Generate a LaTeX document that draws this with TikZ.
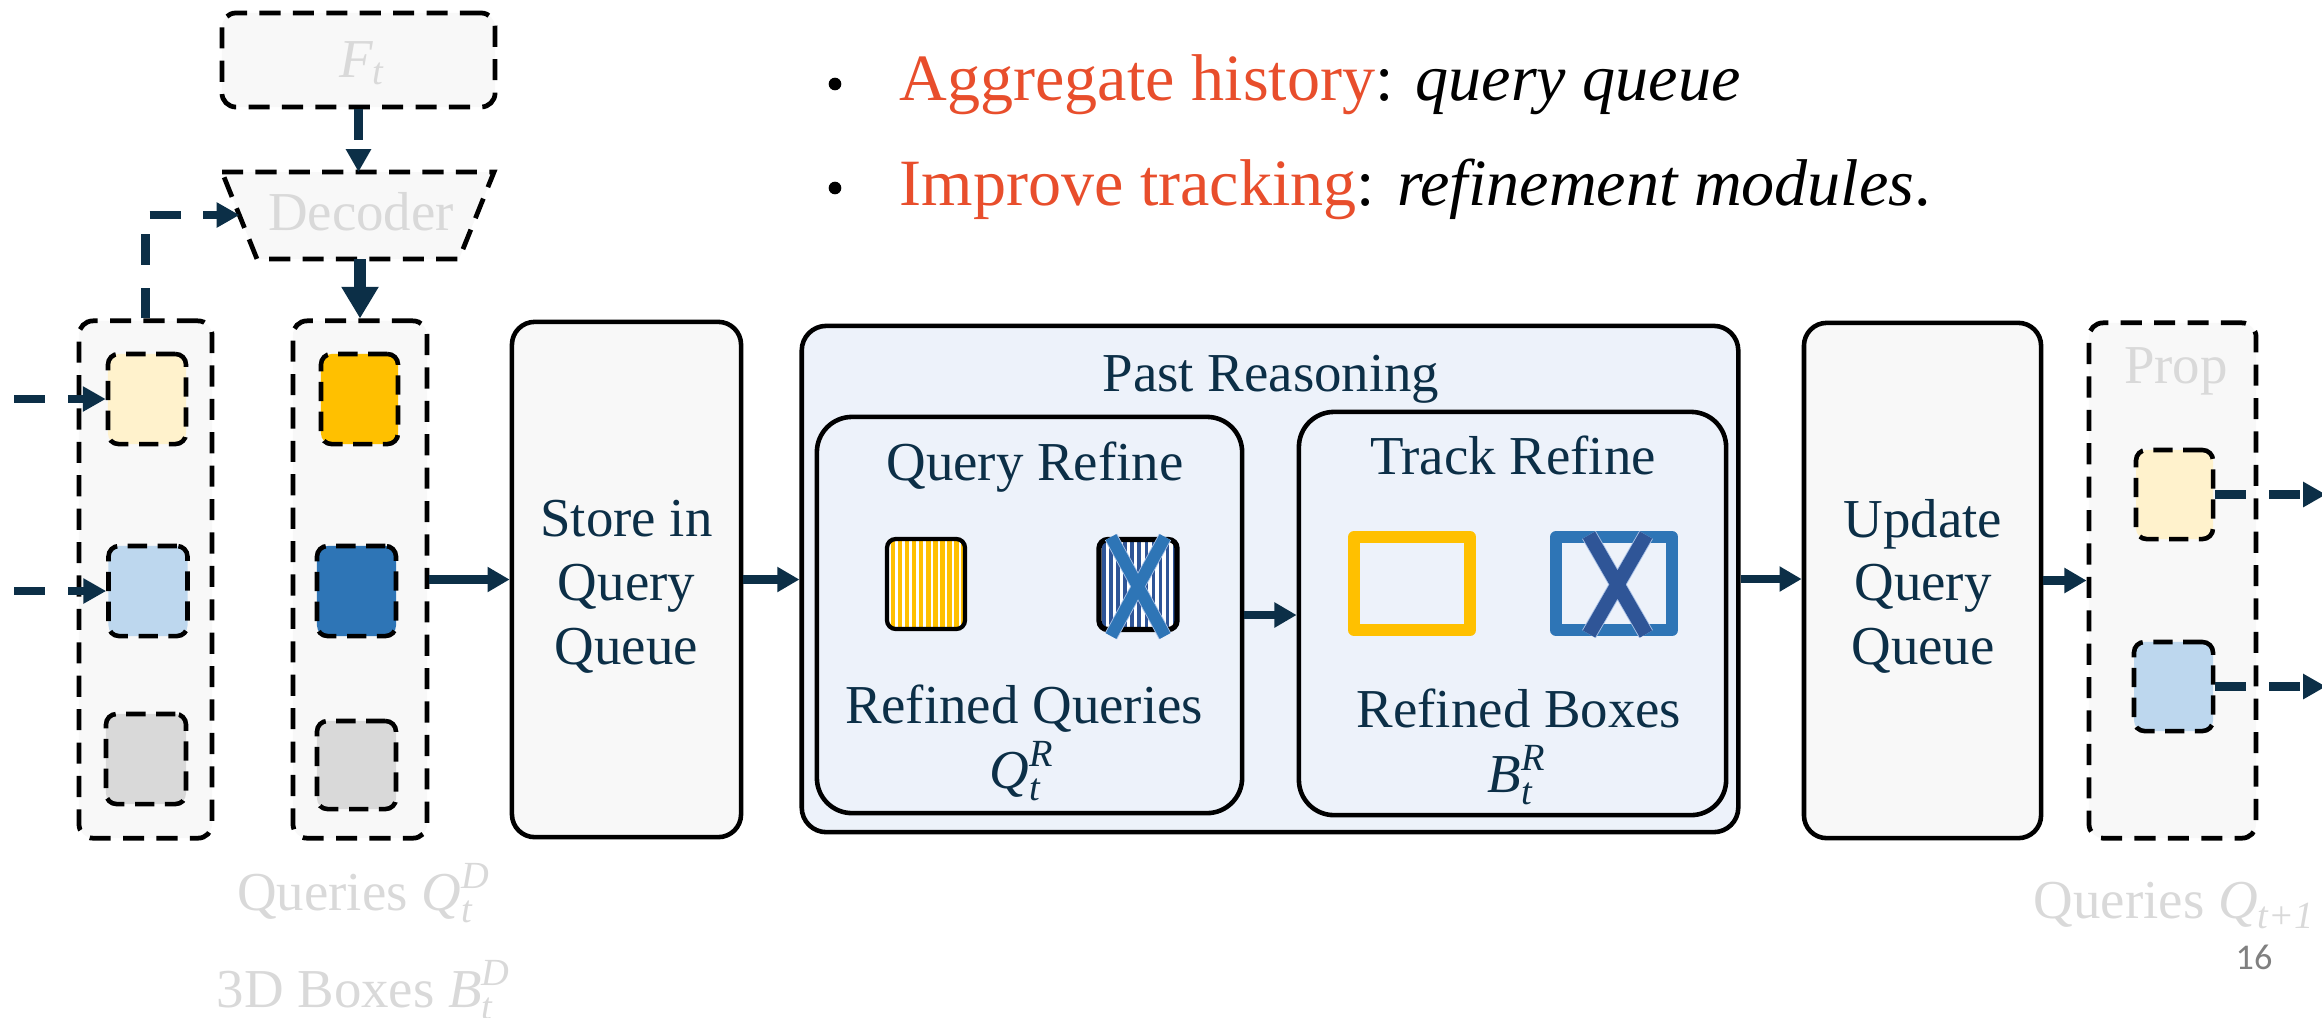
\documentclass[tikz,border=0pt]{standalone}
\usepackage{amsmath}
\usepackage{fontspec}
\setmainfont{Liberation Serif}
\newfontfamily\pagenumfont{Carlito}
\usetikzlibrary{arrows.meta,patterns.meta}

\definecolor{navy}{HTML}{0C2F47}
\definecolor{ghost}{HTML}{D9D9D9}
\definecolor{paper}{HTML}{F8F8F8}
\definecolor{pale}{HTML}{EDF2FA}
\definecolor{accent}{HTML}{E84E2C}
\definecolor{lyellow}{HTML}{FFF2CC}
\definecolor{lblue}{HTML}{BDD7EE}
\definecolor{lgray}{HTML}{D9D9D9}
\definecolor{gold}{HTML}{FFC000}
\definecolor{midblue}{HTML}{2E75B6}
\definecolor{deepblue}{HTML}{2F5597}
\definecolor{xedge}{HTML}{A9C1E6}
\definecolor{pagegray}{HTML}{808080}

% italic symbols with sub- and superscripts, set in the text face
\newcommand{\symb}[3]{$\textit{#1}_{\textit{#2}}^{\textit{#3}}$}
\newcommand{\symbsub}[2]{$\textit{#1}_{\textit{#2}}$}

\begin{document}
\begin{tikzpicture}[x=0.01cm, y=-0.01cm,
  lbl/.style={font=\fontsize{15.6}{18.2}\selectfont, text=navy, inner sep=0pt},
  ghostlbl/.style={font=\fontsize{15.6}{18.2}\selectfont, text=ghost, inner sep=0pt},
  ghostline/.style={draw=black, line width=1.35pt, dash pattern=on 6pt off 3.5pt},
  ghostbox/.style={ghostline, fill=paper, rounded corners=4pt, inner sep=0pt},
  qsq/.style={draw=black, line width=1.3pt, dash pattern=on 5.5pt off 3pt, rounded corners=3pt,
              inner sep=0pt, minimum width=0.79cm, minimum height=0.9cm},
  procbox/.style={draw=black, line width=1.3pt, fill=paper, rounded corners=6.5pt,
                  inner sep=0pt, minimum height=5.15cm},
  panel/.style={draw=black, line width=1.3pt, fill=pale, inner sep=0pt},
  stripes/.style={draw=black, line width=1.2pt, rounded corners=2.5pt, inner sep=0pt,
                  minimum width=0.78cm, minimum height=0.9cm, preaction={fill=white}},
  outline/.style={line width=3.4pt, inner sep=0pt, line join=round,
                  minimum width=1.16cm, minimum height=0.93cm},
  flow/.style={draw=navy, line width=2.5pt, -{Triangle[length=6.3pt,width=6.8pt]}},
  bigflow/.style={draw=navy, line width=3.2pt, -{Triangle[length=9pt,width=10pt]}},
  dashflow/.style={draw=navy, line width=2.4pt, dash pattern=on 8.8pt off 6.5pt,
                   -{Triangle[length=6.5pt,width=6.8pt]}},
]
\path[use as bounding box] (0,0) rectangle (2322,1017);
\clip (0,0) rectangle (2322,1017);

% ---- bullet text ----
\fill[black] (835,84) circle[radius=1.8pt];
\node[anchor=base west, inner sep=0pt, font=\fontsize{18.8}{22}\selectfont] (b1) at (899,100)
  {\textcolor{accent}{Aggregate history}: \textit{query queue}};
\fill[black] (835,188) circle[radius=1.8pt];
\node[anchor=base west, inner sep=0pt, font=\fontsize{18.8}{22}\selectfont] (b2) at (899,205)
  {\textcolor{accent}{Improve tracking}: \textit{refinement modules}.};

% ---- frame features and decoder ----
\node[ghostbox, minimum width=2.73cm, minimum height=0.94cm] (ft) at (358.5,60) {};
\node[ghostlbl, anchor=base] (ftl) at (362,77) {\symbsub{F}{t}};

\coordinate (dtl) at (222,172);
\coordinate (dtr) at (494,172);
\coordinate (dbr) at (459,259);
\coordinate (dbl) at (257,259);
\coordinate (dleft) at (239.5,215);
\draw[ghostline, fill=paper] (dtl) -- (dtr) -- (dbr) -- (dbl) -- cycle;
\node[ghostlbl, anchor=base] (dec) at (361,230) {Decoder};

% ---- query columns ----
\node[ghostbox, minimum width=1.33cm, minimum height=5.17cm] (col1) at (145.5,579.5) {};
\node[ghostbox, minimum width=1.34cm, minimum height=5.17cm] (col2) at (360,579.5) {};

\node[qsq, fill=lyellow, minimum width=0.78cm] (c1y) at (147,399) {};
\node[qsq, fill=lblue] (c1b) at (148,591) {};
\node[qsq, fill=lgray, minimum width=0.8cm] (c1g) at (146,759) {};
\node[qsq, fill=gold, minimum width=0.77cm] (c2y) at (359.5,399) {};
\node[qsq, fill=midblue] (c2b) at (356.5,591) {};
\node[qsq, fill=lgray, minimum height=0.88cm] (c2g) at (356.5,765) {};

\node[ghostlbl, anchor=base] (qd) at (364,910) {Queries \symb{Q}{t}{D}};
\node[ghostlbl, anchor=base] (bd) at (364,1007) {3D Boxes \symb{B}{t}{D}};

% ---- store ----
\node[procbox, minimum width=2.29cm] (store) at (626.5,579.5) {};
\node[lbl, anchor=base] (st1) at (626.5,536) {Store in};
\node[lbl, anchor=base] (st2) at (626.5,600) {Query};
\node[lbl, anchor=base] (st3) at (626.5,664) {Queue};

% ---- past reasoning ----
\node[panel, rounded corners=7pt, minimum width=9.36cm, minimum height=5.06cm] (pr) at (1270,579) {};
\node[lbl, anchor=base] (prt) at (1271,391) {Past Reasoning};

\node[panel, rounded corners=10pt, minimum width=4.25cm, minimum height=3.96cm] (qr) at (1029.5,615) {};
\node[lbl, anchor=base] (qrt) at (1035,480) {Query Refine};
\node[lbl, anchor=base] (qrs) at (1024,723) {Refined Queries};
\node[lbl, anchor=base] (qrm) at (1022,788) {\symb{Q}{t}{R}};

\node[stripes, pattern={Lines[angle=90,distance=2pt,line width=1.2pt]}, pattern color=gold] (qy) at (926,584) {};
\node[stripes, line width=1.5pt, pattern={Lines[angle=90,distance=2pt,line width=1.1pt]}, pattern color=deepblue] (qb) at (1138,584.5) {};
\draw[xedge, line width=3.9pt] (1111,537) -- (1165,636) (1165,537) -- (1111,636);
\draw[midblue, line width=3.4pt] (1111,537) -- (1165,636) (1165,537) -- (1111,636);

\node[panel, rounded corners=10pt, minimum width=4.27cm, minimum height=4.03cm] (tr) at (1512.5,613.5) {};
\node[lbl, anchor=base] (trt) at (1513,474) {Track Refine};
\node[lbl, anchor=base] (trs) at (1519,727) {Refined Boxes};
\node[lbl, anchor=base] (trm) at (1517,792) {\symb{B}{t}{R}};

\node[outline, draw=gold] (ty) at (1412,583.5) {};
\node[outline, draw=midblue] (tb) at (1614,583.5) {};
\draw[xedge, line width=4.5pt] (1589,535) -- (1646,634) (1646,535) -- (1589,634);
\draw[deepblue, line width=4pt] (1589,535) -- (1646,634) (1646,535) -- (1589,634);

% ---- update ----
\node[procbox, minimum width=2.37cm] (upd) at (1922.5,580.5) {};
\node[lbl, anchor=base] (up1) at (1923,537) {Update};
\node[lbl, anchor=base] (up2) at (1923,600) {Query};
\node[lbl, anchor=base] (up3) at (1923,664) {Queue};

% ---- propagated queries ----
\node[ghostbox, minimum width=1.67cm, minimum height=5.15cm] (prop) at (2172.5,580.5) {};
\node[ghostlbl, anchor=base] (propl) at (2176,383) {Prop};
\node[qsq, fill=lyellow, minimum width=0.77cm, minimum height=0.89cm] (py) at (2174.5,494.5) {};
\node[qsq, fill=lblue, minimum height=0.89cm] (pb) at (2173.5,686.5) {};
\node[ghostlbl, anchor=base west] (qn) at (2033,918) {Queries \symbsub{Q}{t+1}};
\node[font=\pagenumfont\fontsize{10.3}{12}\selectfont, text=pagegray, inner sep=0pt] (pg) at (2254,957) {16};

% ---- connectors ----
\coordinate (in1) at (14,399);
\coordinate (in2) at (14,591);
\coordinate (out1) at (2326,494.5);
\coordinate (out2) at (2326,686.5);

\draw[dashflow] (in1) -- (c1y.west);
\draw[dashflow] (in2) -- (c1b.west);
\draw[dashflow] (ft.south) -- (ft.south |- dtl);
\draw[dashflow] (col1.north) |- (dleft);
\draw[bigflow] (col2.north |- dbl) -- (col2.north);
\draw[flow] (col2.east) -- (store.west);
\draw[flow] (store.east) -- (store.east -| pr.west);
\draw[flow] (qr.east) -- (qr.east -| tr.west);
\draw[flow] (pr.east) -- (pr.east -| upd.west);
\draw[flow] (upd.east) -- (upd.east -| prop.west);
\draw[dashflow] (py.east) -- (out1);
\draw[dashflow] (pb.east) -- (out2);
\end{tikzpicture}
\end{document}
